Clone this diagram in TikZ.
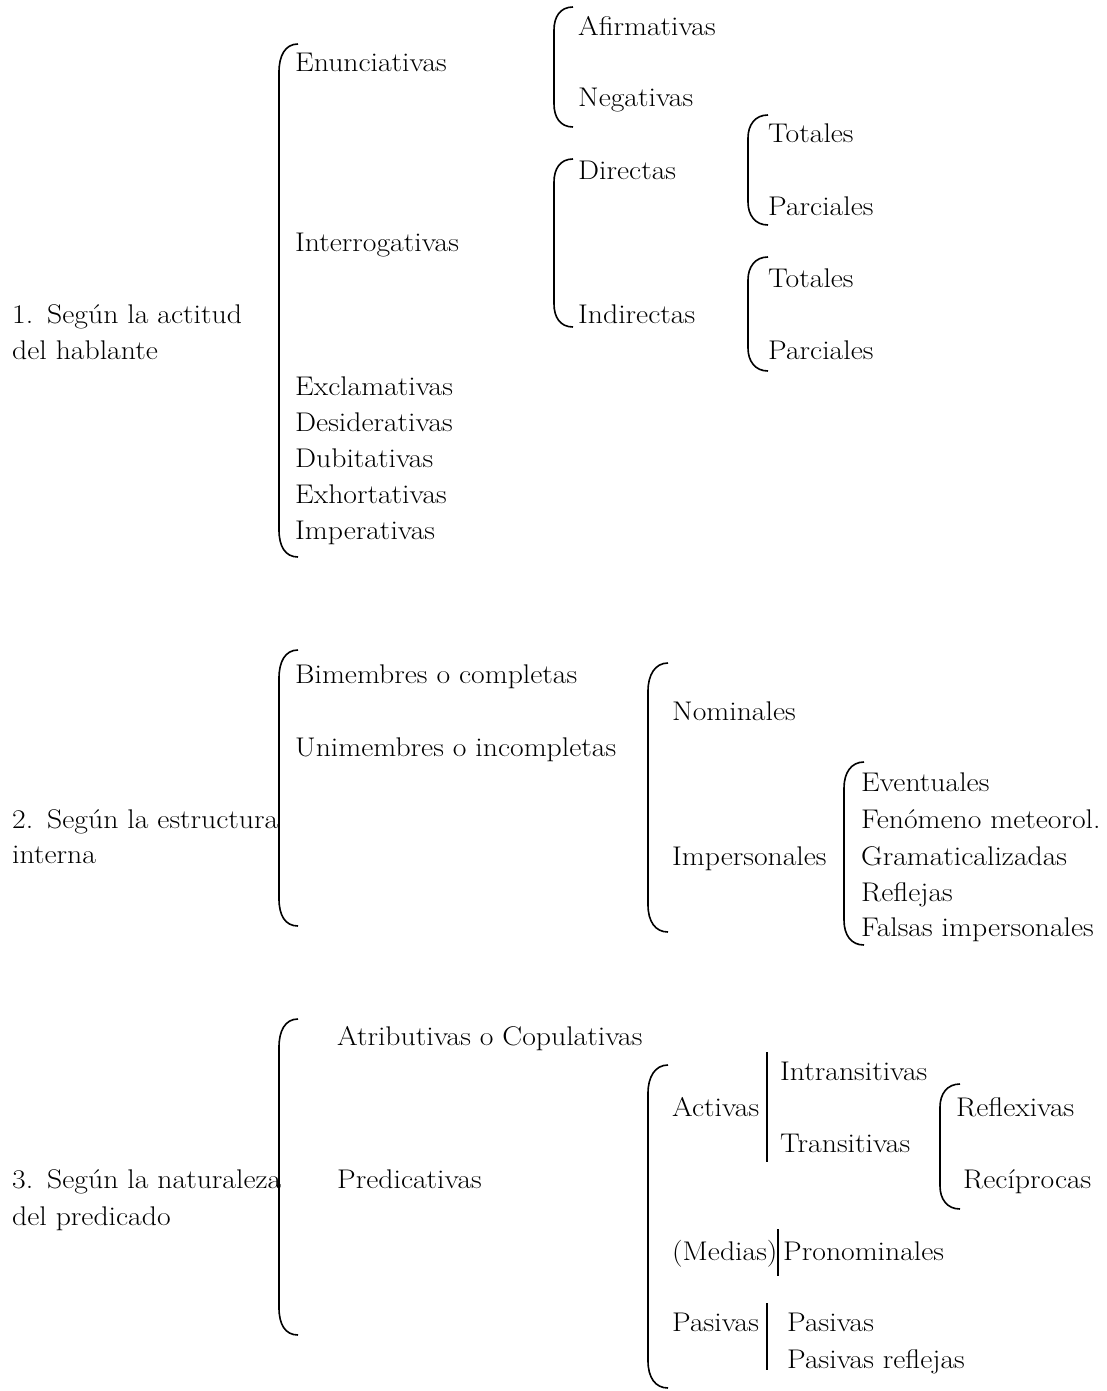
\documentclass[tikz,border=0pt]{standalone}
\usepackage{fontspec}
\setmainfont{Latin Modern Roman}[FakeStretch=1.1]
\begin{document}
\begin{tikzpicture}[x=1pt, y=-1pt,
        txt/.style={anchor=base west, inner sep=0pt, font=\fontsize{27}{36}\selectfont},
        brk/.style={line width=1.6pt}]
        \useasboundingbox (0, 0) rectangle (1107, 1391);

        % 1. actitud del hablante
        \node[txt] (act1) at (12, 323) {1.\hspace{14pt}Según la actitud};
        \node[txt] (act2) at (12, 359) {del hablante};
        \draw[brk] (298, 44) .. controls (285, 44) and (279, 56) .. (279, 72) -- (279, 530) .. controls (279, 546) and (285, 557) .. (298, 557);
        \node[txt] (enun) at (295, 72) {Enunciativas};
        \node[txt] (inter) at (295, 251) {Interrogativas};
        \node[txt] (excl) at (295, 395) {Exclamativas};
        \node[txt] (desid) at (295, 431) {Desiderativas};
        \node[txt] (dubit) at (295, 467) {Dubitativas};
        \node[txt] (exhor) at (295, 503) {Exhortativas};
        \node[txt] (imper) at (295, 539) {Imperativas};

        \draw[brk] (573, 7) .. controls (560, 7) and (554, 17) .. (554, 30) -- (554, 104) .. controls (554, 117) and (560, 127) .. (573, 127);
        \node[txt] (afir) at (578, 36) {Afirmativas};
        \node[txt] (nega) at (578, 107) {Negativas};

        \draw[brk] (573, 159) .. controls (560, 159) and (554, 169) .. (554, 182) -- (554, 304) .. controls (554, 317) and (560, 327) .. (573, 327);
        \node[txt] (dir) at (578, 180) {Directas};
        \node[txt] (indir) at (578, 323) {Indirectas};

        \draw[brk] (768, 115) .. controls (755, 115) and (748, 125) .. (748, 138) -- (748, 202) .. controls (748, 215) and (755, 225) .. (768, 225);
        \node[txt] (tot1) at (768, 143) {Totales};
        \node[txt] (par1) at (768, 215) {Parciales};

        \draw[brk] (768, 257) .. controls (755, 257) and (748, 267) .. (748, 280) -- (748, 348) .. controls (748, 361) and (755, 371) .. (768, 371);
        \node[txt] (tot2) at (768, 287) {Totales};
        \node[txt] (par2) at (768, 359) {Parciales};

        % 2. estructura interna
        \node[txt] (est1) at (12, 828) {2.\hspace{14pt}Según la estructura};
        \node[txt] (est2) at (12, 863) {interna};
        \draw[brk] (298, 650) .. controls (285, 650) and (279, 662) .. (279, 678) -- (279, 899) .. controls (279, 915) and (285, 926) .. (298, 926);
        \node[txt] (bime) at (295, 683) {Bimembres o completas};
        \node[txt] (unim) at (295, 756) {Unimembres o incompletas};

        \draw[brk] (668, 663) .. controls (655, 663) and (648, 675) .. (648, 691) -- (648, 905) .. controls (648, 921) and (655, 932) .. (668, 932);
        \node[txt] (nomi) at (672, 720) {Nominales};
        \node[txt] (impers) at (672, 865) {Impersonales};

        \draw[brk] (864, 762) .. controls (851, 762) and (844, 773) .. (844, 788) -- (844, 920) .. controls (844, 935) and (851, 945) .. (864, 945);
        \node[txt] (even) at (861, 791) {Eventuales};
        \node[txt] (feno) at (861, 828) {Fenómeno meteorol.};
        \node[txt] (gram) at (861, 865) {Gramaticalizadas};
        \node[txt] (refl) at (861, 901) {Reflejas};
        \node[txt] (fals) at (861, 936) {Falsas impersonales};

        % 3. naturaleza del predicado
        \node[txt] (nat1) at (12, 1188) {3.\hspace{14pt}Según la naturaleza};
        \node[txt] (nat2) at (12, 1225) {del predicado};
        \draw[brk] (298, 1019) .. controls (285, 1019) and (279, 1031) .. (279, 1047) -- (279, 1308) .. controls (279, 1324) and (285, 1335) .. (298, 1335);
        \node[txt] (atri) at (337, 1045) {Atributivas o Copulativas};
        \node[txt] (pred) at (337, 1188) {Predicativas};

        \draw[brk] (668, 1065) .. controls (655, 1065) and (648, 1077) .. (648, 1093) -- (648, 1361) .. controls (648, 1377) and (655, 1388) .. (668, 1388);
        \node[txt] (activ) at (672, 1116) {Activas};
        \draw[brk] (767, 1052) -- (767, 1162);
        \node[txt] (intr) at (780, 1080) {Intransitivas};
        \node[txt] (trans) at (780, 1152) {Transitivas};

        \draw[brk] (960, 1084) .. controls (947, 1084) and (940, 1094) .. (940, 1107) -- (940, 1186) .. controls (940, 1199) and (947, 1209) .. (960, 1209);
        \node[txt] (reflx) at (956, 1116) {Reflexivas};
        \node[txt] (recip) at (963, 1188) {Recíprocas};

        \node[txt] (medi) at (672, 1260) {(Medias)};
        \draw[brk] (778, 1229) -- (778, 1276);
        \node[txt] (pron) at (783, 1260) {Pronominales};

        \node[txt] (pasi) at (672, 1331) {Pasivas};
        \draw[brk] (767, 1303) -- (767, 1370);
        \node[txt] (pas2) at (787, 1331) {Pasivas};
        \node[txt] (pasr) at (787, 1368) {Pasivas reflejas};
    \end{tikzpicture}
\end{document}
